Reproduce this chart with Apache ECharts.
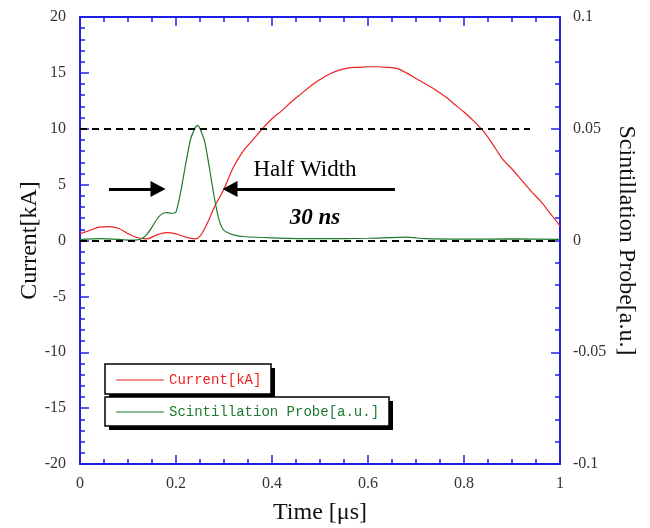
<!DOCTYPE html>
<html>
<head>
<meta charset="utf-8">
<script src="https://cdn.jsdelivr.net/npm/echarts@6/dist/echarts.min.js"></script>
<style>
  html, body { margin: 0; padding: 0; background: #fff; }
  #chart { width: 650px; height: 528px; }
</style>
</head>
<body>
<div id="chart"></div>
<script>
// current trace [kA] vs time [us]
const currentTime = [0, 0.02, 0.04, 0.06, 0.08, 0.10, 0.12, 0.14, 0.16, 0.18, 0.20, 0.22, 0.24, 0.25, 0.26, 0.27, 0.28, 0.29, 0.30,
    0.32, 0.34, 0.36, 0.38, 0.40, 0.42, 0.44, 0.46, 0.48, 0.50, 0.52, 0.54, 0.56, 0.58, 0.60, 0.62, 0.64, 0.66, 0.68, 0.70,
    0.72, 0.74, 0.76, 0.78, 0.80, 0.82, 0.84, 0.86, 0.88, 0.90, 0.92, 0.94, 0.96, 0.98, 1.00];
const currentKA = [0.6, 0.9, 1.2, 1.25, 1.1, 0.6, 0.25, 0.15, 0.5, 0.7, 0.6, 0.3, 0.15, 0.4, 1.1, 2.0, 3.0, 3.8, 4.6,
    6.6, 8.0, 9.0, 10.0, 10.9, 11.6, 12.4, 13.1, 13.8, 14.4, 14.9, 15.25, 15.45, 15.5, 15.55, 15.55, 15.5, 15.4, 15.0, 14.5,
    14.0, 13.5, 12.9, 12.2, 11.5, 10.7, 9.8, 8.6, 7.3, 6.4, 5.4, 4.4, 3.5, 2.4, 1.3];

// scintillation probe [a.u.] vs time [us]
const probeTime = [0, 0.04, 0.08, 0.10, 0.12, 0.13, 0.14, 0.15, 0.16, 0.17, 0.18, 0.19, 0.20, 0.21, 0.22, 0.23, 0.24, 0.245,
    0.25, 0.26, 0.27, 0.28, 0.29, 0.30, 0.32, 0.34, 0.40, 0.50, 0.60, 0.68, 0.72, 0.80, 0.90, 1.00];
const probeAU = [0.0005, 0.0008, 0.0005, 0.0002, 0.0003, 0.001, 0.003, 0.006, 0.0095, 0.0118, 0.0125, 0.0122, 0.0128, 0.022,
    0.034, 0.045, 0.0505, 0.0515, 0.050, 0.044, 0.032, 0.019, 0.009, 0.0045, 0.0025, 0.0018, 0.0012, 0.0008, 0.001, 0.0015,
    0.0008, 0.0006, 0.0007, 0.0005];

const xTicks = { min: 0, max: 1, interval: 0.2 };
const leftTicks = { min: -20, max: 20, interval: 5 };
const rightTicks = { min: -0.1, max: 0.1, interval: 0.05 };

// guide lines [kA] and half-width arrows
const halfLevel = 10;
const halfLineEnd = 0.9375;
const arrowLevel = 4.6;
const leftArrow = [0.0604, 0.1625];
const rightArrow = [0.656, 0.3125];

const AXIS_BLUE = '#1f1fe6';
const SERIF = '"Liberation Serif", "DejaVu Serif", serif';
const MONO = '"Liberation Mono", "DejaVu Sans Mono", monospace';

const zip = (xs, ys) => xs.map((x, i) => [x, ys[i]]);

const axisBase = () => ({
    type: 'value',
    nameMoveOverlap: false,
    axisLine: { show: true, onZero: false, lineStyle: { color: AXIS_BLUE, width: 2 } },
    axisTick: { show: true, inside: true, length: 9, lineStyle: { color: AXIS_BLUE, width: 1.5 } },
    minorTick: { show: true, length: 5, lineStyle: { color: AXIS_BLUE, width: 1.5 } },
    splitLine: { show: false },
    axisLabel: { color: '#333', fontFamily: SERIF, fontSize: 16 }
});

const titleStyle = { color: '#111', fontFamily: SERIF, fontSize: 24 };

const getXAxisOpt = () => ([
    {
        ...axisBase(),
        ...xTicks,
        position: 'bottom',
        minorTick: { ...axisBase().minorTick, splitNumber: 4 },
        axisLabel: { ...axisBase().axisLabel, margin: 12, formatter: v => String(Math.round(v * 10) / 10) },
        name: 'Time [\u03bcs]',
        nameLocation: 'middle',
        nameGap: 37,
        nameTextStyle: titleStyle
    },
    {
        ...axisBase(),
        ...xTicks,
        position: 'top',
        minorTick: { ...axisBase().minorTick, splitNumber: 4 },
        axisLabel: { show: false }
    }
]);

const getYAxisOpt = () => ([
    {
        ...axisBase(),
        ...leftTicks,
        position: 'left',
        minorTick: { ...axisBase().minorTick, splitNumber: 5 },
        axisLabel: { ...axisBase().axisLabel, margin: 14 },
        name: 'Current[kA]',
        nameLocation: 'middle',
        nameGap: 38,
        nameRotate: 90,
        nameTextStyle: titleStyle
    },
    {
        ...axisBase(),
        ...rightTicks,
        position: 'right',
        minorTick: { ...axisBase().minorTick, splitNumber: 5 },
        axisLabel: {
            ...axisBase().axisLabel, margin: 13,
            formatter: v => String(Math.round(v * 100) / 100)
        },
        name: 'Scintillation Probe[a.u.]',
        nameLocation: 'middle',
        nameGap: 54,
        nameRotate: -90,
        nameTextStyle: titleStyle
    }
]);

const dashed = { color: '#000', width: 2, type: [7, 5] };
const arrowStyle = { color: '#000', width: 3, type: 'solid' };

const getLegendGraphic = () => {
    const box = (x, y, w, h) => ([
        { type: 'rect', shape: { x: x + 4, y: y + 4, width: w, height: h }, style: { fill: '#000' } },
        { type: 'rect', shape: { x, y, width: w, height: h }, style: { fill: '#fff', stroke: '#000', lineWidth: 1.5 } }
    ]);
    const entry = (y, color, label) => ([
        { type: 'line', shape: { x1: 116, y1: y, x2: 164, y2: y }, style: { stroke: color, lineWidth: 1.2 } },
        { type: 'text', x: 169, y, style: { text: label, fill: color, font: `14px ${MONO}`, verticalAlign: 'middle' } }
    ]);
    return [
        ...box(105, 364, 166, 30),
        ...box(105, 397, 284, 29),
        ...entry(380, '#ee2222', 'Current[kA]'),
        ...entry(412, '#1e7a2e', 'Scintillation Probe[a.u.]')
    ];
};

const settingOption = () => ({
    backgroundColor: '#fff',
    animation: false,
    grid: { left: 80, right: 90, top: 17, bottom: 64, outerBoundsMode: 'none', containLabel: false },
    xAxis: getXAxisOpt(),
    yAxis: getYAxisOpt(),
    series: [
        {
            type: 'line',
            data: zip(currentTime, currentKA),
            xAxisIndex: 0,
            yAxisIndex: 0,
            color: '#ee2222',
            lineStyle: { width: 1.2 },
            showSymbol: false,
            smooth: 0.3,
            z: 3,
            markLine: {
                silent: true,
                symbol: 'none',
                label: { show: false },
                data: [
                    [{ coord: [0, halfLevel], lineStyle: dashed }, { coord: [halfLineEnd, halfLevel] }],
                    [{ coord: [0, 0], lineStyle: dashed }, { coord: [1, 0] }],
                    [
                        { coord: [leftArrow[0], arrowLevel], lineStyle: arrowStyle, symbol: 'none' },
                        { coord: [leftArrow[1], arrowLevel], symbol: 'triangle', symbolSize: [16, 15] }
                    ],
                    [
                        { coord: [rightArrow[0], arrowLevel], lineStyle: arrowStyle, symbol: 'none' },
                        { coord: [rightArrow[1], arrowLevel], symbol: 'triangle', symbolSize: [16, 15] }
                    ]
                ]
            }
        },
        {
            type: 'line',
            data: zip(probeTime, probeAU),
            xAxisIndex: 0,
            yAxisIndex: 1,
            color: '#1e7a2e',
            lineStyle: { width: 1.2 },
            showSymbol: false,
            smooth: 0.2,
            z: 4
        }
    ],
    graphic: [
        { type: 'text', x: 305, y: 170, style: { text: 'Half Width', font: `23px ${SERIF}`, fill: '#000', align: 'center', verticalAlign: 'middle' } },
        { type: 'text', x: 315, y: 218, style: { text: '30 ns', font: `italic bold 23px ${SERIF}`, fill: '#000', align: 'center', verticalAlign: 'middle' } },
        ...getLegendGraphic()
    ]
});

const myChart = echarts.init(document.getElementById('chart'));
myChart.setOption(settingOption());
</script>
</body>
</html>
